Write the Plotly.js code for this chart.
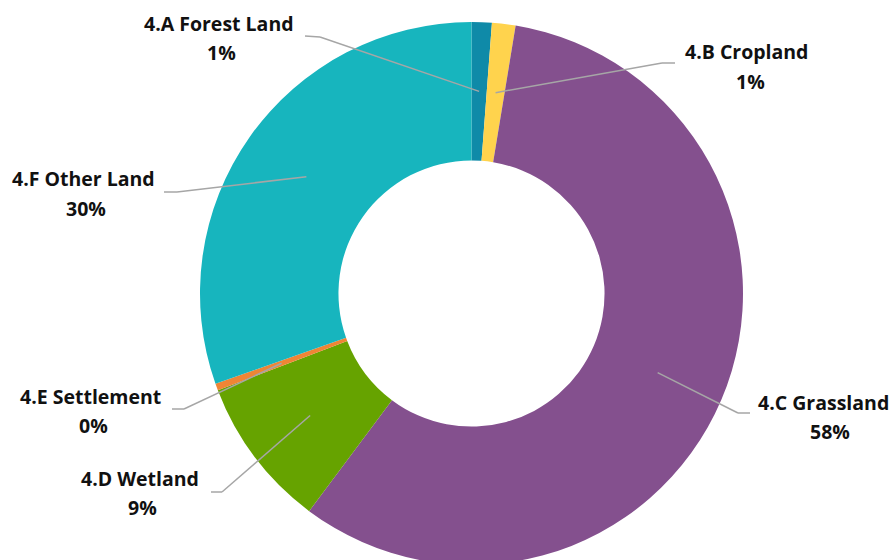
<!DOCTYPE html>
<html>
<head>
<meta charset="utf-8">
<script src="https://cdn.plot.ly/plotly-3.0.1.min.js"></script>
<style>
html,body{margin:0;padding:0;overflow:hidden;background:#fff;}
#chart{width:895px;height:570px;}
</style>
</head>
<body>
<div id="chart"></div>
<script>
// Data
const categories = ["4.A Forest Land", "4.B Cropland", "4.C Grassland", "4.D Wetland", "4.E Settlement", "4.F Other Land"];
const values = [1.2, 1.4, 57.6, 9.0, 0.4, 30.4];
const colors = ["#0f8aa8", "#ffd34d", "#84508e", "#66a300", "#ef8535", "#17b5be"];

// Layout geometry (pixels)
const W = 895, H = 570;
const cx = 471.5, cy = 293.5, R = 271.5, hole = 0.49;
const rMid = R * (1 + hole) / 2;

// Label placement (pixels): name centre, percent centre, elbow, end of horizontal tick
const labelPos = [
  {name:[219,23],  pct:[221,52],  elbow:[320,37],  end:[305,36]},
  {name:[746,51],  pct:[750,81],  elbow:[662,63],  end:[675,63]},
  {name:[823,402], pct:[830,431], elbow:[738,413], end:[750,413]},
  {name:[140,478], pct:[142,507], elbow:[222,492], end:[211,492]},
  {name:[90,396],  pct:[93,425],  elbow:[184,409], end:[172,409]},
  {name:[83,178],  pct:[86,208],  elbow:[177,192], end:[164,192]}
];

const px = x => x / W;
const py = y => 1 - y / H;

const total = values.reduce((a,b)=>a+b,0);
const annotations = [];
const shapes = [];
let cum = 0;
const lineStyle = {color:"#a6a6a6", width:1.5};
const fontName = {family:"'Open Sans', 'Noto Sans', sans-serif", size:19.5, color:"#111", weight:"bold"};
values.forEach((v,i)=>{
  const mid = (cum + v/2) / total * 2 * Math.PI;
  cum += v;
  const ax = cx + rMid * Math.sin(mid);
  const ay = cy - rMid * Math.cos(mid);
  const p = labelPos[i];
  shapes.push({type:"line", xref:"paper", yref:"paper", x0:px(ax), y0:py(ay), x1:px(p.elbow[0]), y1:py(p.elbow[1]), line:lineStyle});
  shapes.push({type:"line", xref:"paper", yref:"paper", x0:px(p.elbow[0]), y0:py(p.elbow[1]), x1:px(p.end[0]), y1:py(p.end[1]), line:lineStyle});
  annotations.push({xref:"paper", yref:"paper", x:px(p.name[0]), y:py(p.name[1]), xanchor:"center", yanchor:"middle",
    text:categories[i], showarrow:false, font:fontName});
  annotations.push({xref:"paper", yref:"paper", x:px(p.pct[0]), y:py(p.pct[1]), xanchor:"center", yanchor:"middle",
    text:Math.round(v/total*100)+"%", showarrow:false, font:fontName});
});

const trace = {
  type:"pie",
  labels:categories,
  values:values,
  marker:{colors:colors, line:{width:0}},
  hole:hole,
  sort:false,
  direction:"clockwise",
  rotation:0,
  textinfo:"none",
  hoverinfo:"label+percent",
  showlegend:false,
  domain:{x:[px(cx-R), px(cx+R)], y:[py(cy+R), py(cy-R)]}
};

const layout = {
  width:W, height:H,
  margin:{l:0,r:0,t:0,b:0},
  paper_bgcolor:"#ffffff",
  plot_bgcolor:"#ffffff",
  showlegend:false,
  shapes:shapes,
  annotations:annotations
};

Plotly.newPlot("chart", [trace], layout, {displayModeBar:false, staticPlot:true});
</script>
</body>
</html>
